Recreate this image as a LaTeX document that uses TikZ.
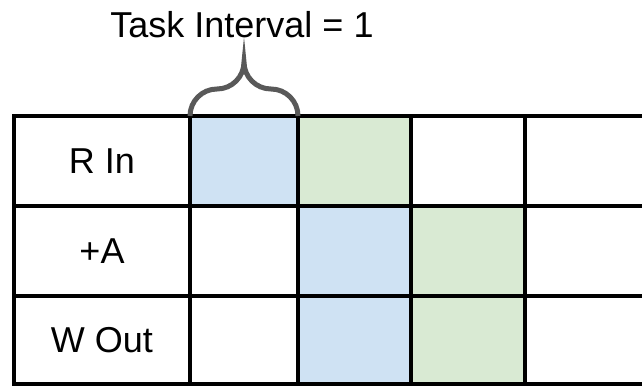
\documentclass[tikz,border=0pt]{standalone}
\usepackage{fontspec}
\setmainfont{Liberation Sans}

\definecolor{slotblue}{HTML}{CFE2F3}
\definecolor{slotgreen}{HTML}{D9EAD3}
\definecolor{bracegray}{HTML}{595959}

\begin{document}
\begin{tikzpicture}[
    x = .5pt, y = .5pt,
    font = \fontsize{18}{22}\selectfont,
    cell/.style = {
      rectangle,
      draw = black, line width = 2pt,
      inner sep = 0, outer sep = 0,
    },
    taskone/.style = {fill = slotblue},
    tasktwo/.style = {fill = slotgreen},
    % which slot is busy with which task
    slot 11/.style = {taskone},
    slot 12/.style = {tasktwo},
    slot 22/.style = {taskone},
    slot 23/.style = {tasktwo},
    slot 32/.style = {taskone},
    slot 33/.style = {tasktwo},
    curly/.style = {
      draw = bracegray,
      line width = 2.5pt,
    },
  ]
  \useasboundingbox (0,0) rectangle (642,386);

  % stages (rows) and time slots (columns)
  \foreach \row/\yt/\yb/\name in {1/270/180/R In, 2/180/90/+A, 3/90/2/W Out} {
    \node[cell, minimum width = 88pt, minimum height = {(\yt-\yb)*.5pt}]
      (stage\row) at (102, {(\yt+\yb)/2}) {\name};
    \foreach \col/\xl/\xr in {1/190/298, 2/298/411, 3/411/525, 4/525/660} {
      \node[cell, slot \row\col/.try,
            minimum width = {(\xr-\xl)*.5pt},
            minimum height = {(\yt-\yb)*.5pt}]
        (slot\row\col) at ({(\xl+\xr)/2}, {(\yt+\yb)/2}) {};
    }
  }

  % brace over the first slot
  \draw[curly] (slot11.north west)
    arc[start angle = 180, end angle = 90, radius = 13.5pt]
    arc[start angle = 270, end angle = 360, radius = 13.5pt] coordinate (tip)
    arc[start angle = 180, end angle = 270, radius = 13.5pt]
    arc[start angle = 90, end angle = 0, radius = 13.5pt];

  \node[anchor = base] (interval) at (242, 348) {Task Interval = 1};
\end{tikzpicture}
\end{document}
